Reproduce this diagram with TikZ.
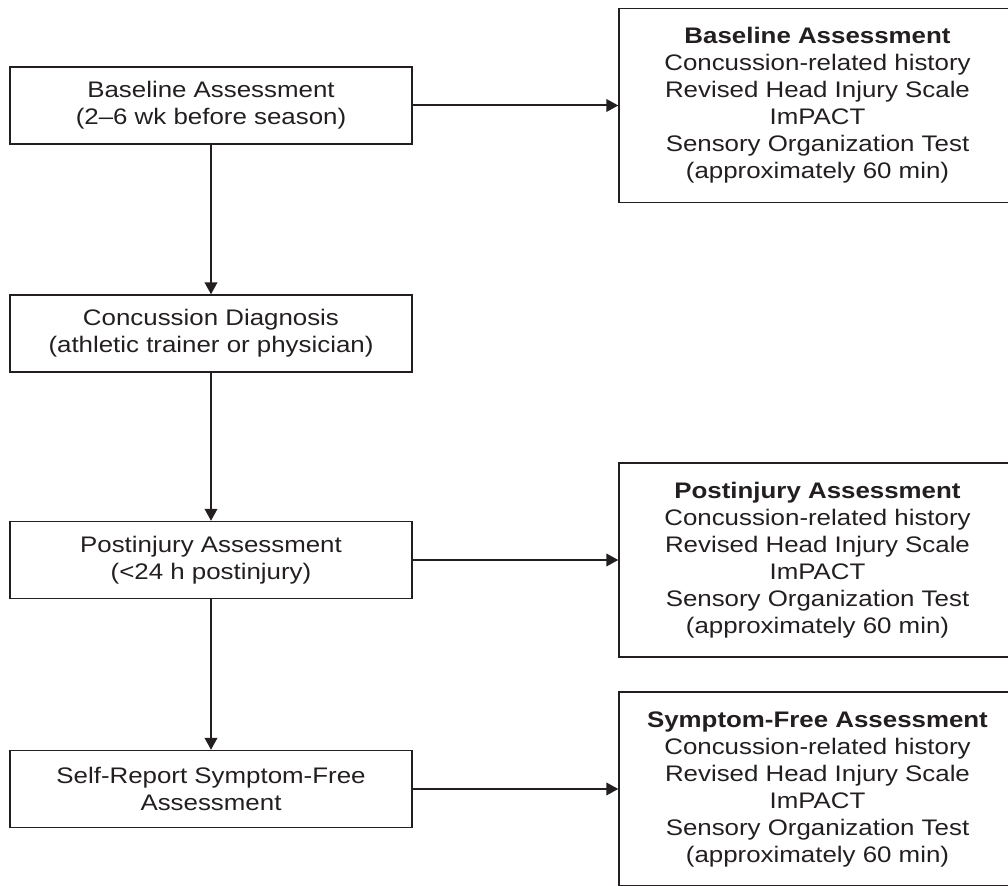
\documentclass[tikz,border=0pt]{standalone}
\usepackage{fontspec}
\setmainfont{Liberation Sans}[FakeStretch=1.15]
\usetikzlibrary{arrows.meta}
\definecolor{ink}{HTML}{231F20}
\tikzset{
  stage/.style={draw=ink,text=ink,line width=0.7pt,minimum width=201pt,
    minimum height=38.5pt,inner sep=0pt,align=center,
    font=\fontsize{11.25}{13.5}\selectfont},
  detail/.style={stage,minimum width=198.5pt,minimum height=97pt},
  flow/.style={draw=ink,line width=1pt,-{Triangle[length=6pt,width=6.3pt]}}
}
\begin{document}
\begin{tikzpicture}[x=0.5pt,y=-0.5pt]
  \useasboundingbox (0,0) rectangle (1008,886);
  \clip (0,0) rectangle (1008,886);
  % time line (left column)
  \node[stage] (base) at (211,105.5) {Baseline Assessment\\(2--6 wk before season)};
  \node[stage] (diag) at (211,333.5) {Concussion Diagnosis\\(athletic trainer or physician)};
  \node[stage] (post) at (211,560) {Postinjury Assessment\\(<24 h postinjury)};
  \node[stage] (free) at (211,789) {Self-Report Symptom-Free\\Assessment};
  % test batteries (right column)
  \node[detail] (baseT) at (817.5,105.5) {\textbf{Baseline Assessment}\\Concussion-related history\\Revised Head Injury Scale\\ImPACT\\Sensory Organization Test\\(approximately 60 min)};
  \node[detail] (postT) at (817.5,560) {\textbf{Postinjury Assessment}\\Concussion-related history\\Revised Head Injury Scale\\ImPACT\\Sensory Organization Test\\(approximately 60 min)};
  \node[detail] (freeT) at (817.5,789) {\textbf{Symptom-Free Assessment}\\Concussion-related history\\Revised Head Injury Scale\\ImPACT\\Sensory Organization Test\\(approximately 60 min)};
  % arrows
  \draw[flow] (base) -- (diag);
  \draw[flow] (diag) -- (post);
  \draw[flow] (post) -- (free);
  \draw[flow] (base.east) -- (baseT.west);
  \draw[flow] (post.east) -- (postT.west);
  \draw[flow] (free.east) -- (freeT.west);
\end{tikzpicture}
\end{document}
